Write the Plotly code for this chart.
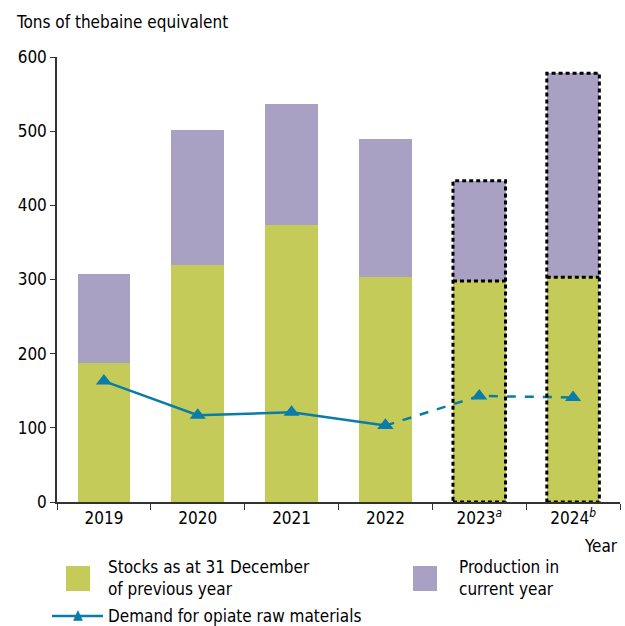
import plotly.graph_objects as go

years = ["2019", "2020", "2021", "2022", "2023", "2024"]
tick_labels = ["2019", "2020", "2021", "2022", "2023<sup><i>a</i></sup>", "2024<sup><i>b</i></sup>"]
stocks = [188, 320, 373, 303, 298, 303]
production = [119, 182, 164, 186, 135, 275]
demand = [163, 117, 121, 103, 143, 141]
estimated = [False, False, False, False, True, True]

GREEN = "#C5CB59"
PURPLE = "#A9A1C4"
BLUE = "#0A7CA8"
FONT = "Liberation Sans Narrow, DejaVu Sans Condensed, sans-serif"
BW = 0.56
DOT = dict(color="black", width=3, dash="4px,3px")

xs = list(range(len(years)))

fig = go.Figure()
fig.add_trace(go.Bar(x=xs, y=stocks, marker=dict(color=GREEN, line=dict(width=0)),
                     width=BW, showlegend=False))
fig.add_trace(go.Bar(x=xs, y=production, marker=dict(color=PURPLE, line=dict(width=0)),
                     width=BW, showlegend=False))

# demand line: solid for actual, dashed for estimates
solid_idx = [i for i in xs if not estimated[i]]
dash_idx = [solid_idx[-1]] + [i for i in xs if estimated[i]]
fig.add_trace(go.Scatter(x=solid_idx, y=[demand[i] for i in solid_idx], mode="lines+markers",
                         line=dict(color=BLUE, width=2.5),
                         marker=dict(symbol="triangle-up", size=14, color=BLUE),
                         showlegend=False))
fig.add_trace(go.Scatter(x=dash_idx, y=[demand[i] for i in dash_idx], mode="lines+markers",
                         line=dict(color=BLUE, width=2.5, dash="dash"),
                         marker=dict(symbol="triangle-up", size=14, color=BLUE),
                         showlegend=False))

# dotted outlines for estimated bars
for i in xs:
    if estimated[i]:
        fig.add_shape(type="rect", xref="x", yref="y", x0=i - BW / 2, x1=i + BW / 2,
                      y0=0, y1=stocks[i] + production[i], line=DOT)
        fig.add_shape(type="line", xref="x", yref="y", x0=i - BW / 2, x1=i + BW / 2,
                      y0=stocks[i], y1=stocks[i], line=DOT)

W, H = 625, 626
L, R, T, B = 57, 5, 57, 124
pw, ph = W - L - R, H - T - B

def px_to_paper(x, y):
    return (x - L) / pw, (H - B - y) / ph

def add_rect_px(x0, y0, x1, y1, color):
    a = px_to_paper(x0, y0); b = px_to_paper(x1, y1)
    fig.add_shape(type="rect", xref="paper", yref="paper", x0=a[0], y0=a[1], x1=b[0], y1=b[1],
                  fillcolor=color, line=dict(width=0))

def add_text_px(x, y, text, xanchor="left", yanchor="middle"):
    p = px_to_paper(x, y)
    fig.add_annotation(xref="paper", yref="paper", x=p[0], y=p[1], text=text, showarrow=False,
                       xanchor=xanchor, yanchor=yanchor, align="left",
                       font=dict(family=FONT, size=17, color="black"))

# legend (drawn manually)
add_rect_px(66, 566, 90, 591, GREEN)
add_text_px(106, 578, "Stocks as at 31 December<br>of previous year")
add_rect_px(413, 566, 437, 591, PURPLE)
add_text_px(457, 578, "Production in<br>current year")
a = px_to_paper(52, 616); b = px_to_paper(103, 616)
fig.add_shape(type="line", xref="paper", yref="paper", x0=a[0], y0=a[1], x1=b[0], y1=b[1],
              line=dict(color=BLUE, width=2.5))
m = px_to_paper(78, 614)
fig.add_annotation(xref="paper", yref="paper", x=m[0], y=m[1], text="▲", showarrow=False,
                   font=dict(size=14, color=BLUE), xanchor="center", yanchor="middle")
add_text_px(106, 616, "Demand for opiate raw materials")
add_text_px(620, 546, "Year", xanchor="right")
add_text_px(14, 22, "Tons of thebaine equivalent")

fig.update_layout(
    barmode="stack",
    width=W, height=H,
    margin=dict(l=L, r=R, t=T, b=B),
    plot_bgcolor="white", paper_bgcolor="white",
    font=dict(family=FONT, size=17, color="black"),
    xaxis=dict(range=[-0.5, 5.5], tickmode="array", tickvals=xs, ticktext=tick_labels,
               showline=True, linecolor="#333", linewidth=1.5, ticks="", ticklen=6,
               tickcolor="#333", showgrid=False, zeroline=False,
               tickfont=dict(family=FONT, size=17),
               minor=dict(tickvals=[i - 0.5 for i in range(len(years) + 1)],
                          ticks="outside", ticklen=6, tickcolor="#333")),
    yaxis=dict(range=[0, 600], tickvals=[0, 100, 200, 300, 400, 500, 600],
               showline=True, linecolor="#333", linewidth=1.5, ticks="outside", ticklen=5,
               tickcolor="#333", showgrid=False, zeroline=False,
               tickfont=dict(family=FONT, size=17)),
)

fig.write_html("out.html", config={"displayModeBar": False},
               post_script="document.body.style.margin='0';document.body.style.overflow='hidden';")
